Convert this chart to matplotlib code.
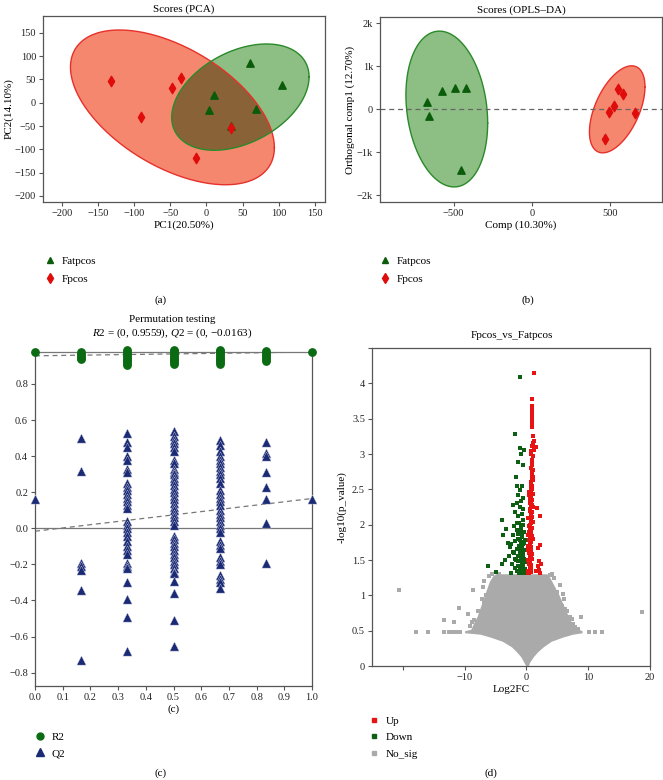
import numpy as np
import matplotlib
matplotlib.use("Agg")
from matplotlib import pyplot as plt
from matplotlib.lines import Line2D
from matplotlib.path import Path

plt.rcParams['font.family'] = ['Liberation Serif', 'DejaVu Serif']
plt.rcParams['mathtext.fontset'] = 'custom'
plt.rcParams['mathtext.rm'] = 'Liberation Serif'
plt.rcParams['mathtext.it'] = 'Liberation Serif:italic'

# ---- (a) PCA scores
pca_fat_x = [60, 105, 10, 3, 68, 34]
pca_fat_y = [85, 37, 16, -16, -13, -49]
pca_fp_x = [-132, -35, -48, -90, -15, 34]
pca_fp_y = [47, 53, 32, -30, -118, -54]
# ellipse: centre x, centre y, half width, half height, correlation
pca_fat_ell = [47, 12, 95, 114, 0.38]
pca_fp_ell = [-47, -10, 141, 166, -0.52]

# ---- (b) OPLS-DA scores
opls_fat_x = [-673, -660, -577, -492, -421, -453]
opls_fat_y = [170, -163, 427, 482, 482, -1422]
opls_fp_x = [555, 583, 530, 494, 660, 470]
opls_fp_y = [459, 350, 70, -62, -100, -684]
opls_fat_ell = [-544, 3, 262, 1815, -0.18]
opls_fp_ell = [548, -4, 178, 1014, 0.52]

# ---- (c) permutation test
r2_perm = {
    0.0: [0.977],
    1/6: [0.978, 0.965, 0.955, 0.945, 0.937],
    2/6: [0.988, 0.975, 0.965, 0.955, 0.945, 0.935, 0.925, 0.915, 0.906],
    3/6: [0.99, 0.98, 0.97, 0.96, 0.95, 0.94, 0.93, 0.92, 0.91],
    4/6: [0.99, 0.98, 0.97, 0.96, 0.95, 0.94, 0.93, 0.92, 0.91],
    5/6: [0.984, 0.972, 0.96, 0.948, 0.936, 0.925],
    1.0: [0.977],
}
q2_perm = {
    0.0: [0.16],
    1/6: [0.50, 0.32, -0.19, -0.21, -0.23, -0.34, -0.73],
    2/6: [0.53, 0.48, 0.45, 0.40, 0.38, 0.33, 0.31, 0.25, 0.23, 0.21, 0.19,
          0.17, 0.15, 0.13, 0.11, 0.04, 0.02, 0.0, -0.02, -0.04, -0.07, -0.10,
          -0.12, -0.14, -0.19, -0.21, -0.22, -0.30, -0.39, -0.49, -0.68],
    3/6: [0.54, 0.51, 0.49, 0.47, 0.45, 0.43, 0.38, 0.36, 0.33, 0.31, 0.30,
          0.28, 0.26, 0.24, 0.22, 0.20, 0.18, 0.16, 0.14, 0.12, 0.10, 0.08,
          0.06, 0.04, 0.02, -0.04, -0.06, -0.08, -0.10, -0.12, -0.14, -0.16,
          -0.18, -0.20, -0.22, -0.24, -0.25, -0.29, -0.36, -0.51, -0.65],
    4/6: [0.49, 0.46, 0.43, 0.40, 0.38, 0.36, 0.34, 0.32, 0.30, 0.28, 0.25,
          0.21, 0.19, 0.17, 0.15, 0.13, 0.10, 0.08, 0.06, 0.04, 0.02, 0.0,
          -0.02, -0.07, -0.09, -0.11, -0.16, -0.18, -0.20, -0.26, -0.28,
          -0.30, -0.33],
    5/6: [0.48, 0.42, 0.40, 0.31, 0.23, 0.16, 0.03, -0.19],
    1.0: [0.165],
}
r2_line = [0.9559, 0.977]
q2_line = [-0.0163, 0.165]

# ---- (d) volcano
up_x = [1.18, 0.9, 0.95, 0.85, 0.9, 0.85, 0.9, 0.85, 0.9, 1.3, 1.0, 0.9, 1.5, 1.2,
        0.8, 1.0, 0.85, 0.9, 0.8, 1.0, 0.85, 0.9, 0.85, 1.0, 0.8, 0.9, 0.75, 0.85,
        0.7, 1.0, 0.8, 0.6, 0.9, 0.7, 0.5, 0.8, 1.1, 1.7, 0.6, 0.9, 0.7, 2.25,
        0.5, 0.8, 1.0, 0.6, 0.4, 0.9, 0.7, 0.5, 0.8, 0.3, 0.6, 1.1, 0.4, 0.7,
        2.25, 0.5, 0.3, 1.9, 0.8, 0.6, 0.35, 0.9, 0.5, 0.7, 0.3, 2.1, 2.3, 0.6,
        0.4, 1.8, 0.8, 0.5, 2.0, 0.3, 1.6, 0.7, 2.2, 0.4,
        0.4, 0.6, 0.9, 0.5, 0.7, 0.3, 0.8, 0.6, 0.4, 0.9, 0.5, 0.7, 0.3, 0.8,
        0.6, 0.9, 0.4, 0.7, 0.5, 0.8, 0.3, 0.6, 0.9, 0.5, 0.7, 0.4, 0.8, 0.6,
        1.0, 0.9, 0.8, 1.0, 0.9, 0.85]
up_y = [4.14, 3.78, 3.68, 3.64, 3.6, 3.55, 3.52, 3.42, 3.38, 3.18, 3.15, 3.12, 3.1,
        3.05, 3.04, 2.97, 2.92, 2.85, 2.8, 2.78, 2.74, 2.7, 2.66, 2.63, 2.6, 2.55,
        2.52, 2.5, 2.47, 2.44, 2.4, 2.37, 2.35, 2.32, 2.3, 2.27, 2.25, 2.24, 2.2,
        2.18, 2.14, 2.12, 2.1, 2.07, 2.04, 2.0, 1.98, 1.95, 1.92, 1.9, 1.87, 1.85,
        1.82, 1.8, 1.78, 1.75, 1.71, 1.72, 1.7, 1.67, 1.66, 1.63, 1.6, 1.58, 1.56,
        1.53, 1.5, 1.48, 1.45, 1.47, 1.44, 1.42, 1.41, 1.38, 1.36, 1.35, 1.34,
        1.33, 1.32, 1.32,
        2.42, 2.34, 2.28, 2.22, 2.16, 2.09, 2.02, 1.96, 1.89, 1.84, 1.77, 1.69,
        1.64, 1.59, 1.55, 1.51, 1.46, 1.43, 1.39, 1.37, 1.31, 1.74, 2.11, 1.93,
        1.61, 2.46, 2.58, 2.32, 2.68, 2.88, 3.0, 3.25, 3.46, 3.62]
down_x = [-1.08, -1.78, -1.0, -0.4, -0.86, -1.35, -0.6, -1.72, -1.45, -0.75, -0.97,
          -1.3, -0.6, -2.15, -0.86, -1.6, -1.1, -0.5, -1.9, -0.8, -1.4, -3.88,
          -0.6, -1.2, -3.23, -2.0, -0.9, -1.5, -0.4, -3.77, -1.1, -2.2, -0.7,
          -1.3, -0.3, -1.8, -0.9, -2.5, -0.5, -1.2, -2.7, -0.8, -1.6, -0.3, -1.0,
          -2.0, -0.6, -1.4, -0.9, -3.5, -0.4, -1.7, -1.1, -0.7, -4.0, -2.3, -0.5,
          -6.2, -1.3, -0.9, -1.9, -0.3, -1.0, -0.6, -5.0, -1.5, -0.8, -2.5, -0.4,
          -1.2,
          -0.5, -0.9, -1.3, -0.7, -1.1, -0.4, -0.8, -1.2, -0.6, -1.0, -1.4, -0.5,
          -0.9, -0.3, -0.7, -1.1, -0.6, -1.0, -0.4, -0.8, -1.2, -0.5, -0.9, -0.7,
          -1.3, -0.6, -1.0, -0.4, -0.8, -1.5, -2.1, -2.8, -1.8, -3.0]
down_y = [4.09, 3.29, 3.09, 3.06, 3.0, 2.88, 2.85, 2.67, 2.55, 2.55, 2.49, 2.42,
          2.38, 2.28, 2.33, 2.3, 2.25, 2.22, 2.18, 2.15, 2.12, 2.07, 2.06, 2.03,
          1.94, 1.98, 1.96, 1.92, 1.9, 1.86, 1.88, 1.85, 1.84, 1.8, 1.79, 1.77,
          1.75, 1.73, 1.72, 1.7, 1.68, 1.67, 1.65, 1.64, 1.62, 1.6, 1.58, 1.56,
          1.54, 1.5, 1.52, 1.5, 1.48, 1.46, 1.44, 1.45, 1.43, 1.41, 1.42, 1.4,
          1.38, 1.37, 1.36, 1.35, 1.33, 1.34, 1.32, 1.32, 1.31, 1.31,
          1.99, 1.93, 1.87, 1.82, 1.78, 1.74, 1.7, 1.66, 1.63, 1.59, 1.55, 1.53,
          1.5, 1.47, 1.44, 1.41, 1.39, 1.37, 1.35, 1.33, 1.33, 1.32, 1.56, 1.6,
          1.48, 1.44, 1.69, 1.76, 1.57, 2.02, 1.62, 1.55, 1.52, 1.74]
nosig_x = [-20.7, -8.7, -10.9, -9.5, -13.3, -11.8, 18.7, 8.9, 6.9, 7.0, -17.9, -15.9,
           -13.4, -12.6, -12.0, -11.4, -10.8, 10.2, 11.1, 12.3, -6.8, -6.5, -7.2,
           -6.0, 5.5, 4.5, 3.8, 5.8, 6.3, 5.0, -7.8, -8.5, -7.5, 7.8, 8.3, -5.5,
           -6.2, 6.0, 4.2, -4.5, -8.8, -9.2, 7.3, 7.6, -7.0, 5.9, -6.9, 6.6]
nosig_y = [1.07, 1.07, 0.82, 0.74, 0.65, 0.62, 0.77, 0.70, 0.61, 0.69, 0.485, 0.485,
           0.485, 0.485, 0.485, 0.485, 0.485, 0.485, 0.485, 0.485, 1.2, 1.0, 0.95,
           1.27, 1.15, 1.25, 1.29, 0.85, 0.8, 1.05, 0.78, 0.65, 0.58, 0.55, 0.52,
           1.3, 0.88, 0.95, 1.3, 1.3, 0.62, 0.56, 0.66, 0.6, 1.12, 1.02, 0.9, 0.78]
# dense no_sig cloud outline
cloud_y = [0.0, 0.05, 0.13, 0.2, 0.27, 0.35, 0.41, 0.45, 0.47, 0.50, 0.52, 0.60,
           0.70, 0.80, 0.90, 1.00, 1.10, 1.20, 1.28, 1.305]
cloud_left = [-0.1, -0.4, -0.9, -1.6, -2.4, -3.9, -5.9, -7.5, -10.0, -10.0, -9.0,
              -8.6, -8.0, -7.6, -7.2, -6.8, -6.4, -6.0, -5.4, -5.0]
cloud_right = [0.3, 0.5, 1.1, 1.8, 2.7, 4.0, 5.9, 7.5, 9.0, 9.0, 8.4, 7.4, 6.8,
               6.3, 5.8, 5.3, 4.7, 4.1, 3.6, 3.3]

RED_FILL = '#f5876e'
GREEN_FILL = '#8dbe83'
BROWN_FILL = '#8a6238'
RED_EDGE = '#e8302a'
GREEN_EDGE = '#2a8a2a'
RED_MK = '#e00b0b'
GREEN_MK = '#0a5c0a'
SPINE = '#555555'
FS = 8
TS = 7.5


def ellipse_xy(p):
    cx, cy, w, h, rho = p
    t = np.linspace(0, 2 * np.pi, 400)
    d = np.arccos(rho)
    return np.column_stack([cx + w * np.cos(t), cy + h * np.cos(t - d)])


def overlap_xy(a, b):
    # both ellipses are convex: keep the outline points of each that lie in the other
    pts = np.vstack([a[Path(b).contains_points(a)], b[Path(a).contains_points(b)]])
    if len(pts) < 3:
        return None
    c = pts.mean(axis=0)
    return pts[np.argsort(np.arctan2(pts[:, 1] - c[1], pts[:, 0] - c[0]))]


def style(ax):
    for s in ax.spines.values():
        s.set_color(SPINE)
        s.set_linewidth(0.9)
    ax.tick_params(direction='out', length=3, width=0.8, color=SPINE,
                   labelsize=TS, labelcolor='#222222', pad=2)


def score_panel(ax, fat_x, fat_y, fp_x, fp_y, fat_ell, fp_ell):
    red_xy = ellipse_xy(fp_ell)
    green_xy = ellipse_xy(fat_ell)
    ax.fill(red_xy[:, 0], red_xy[:, 1], color=RED_FILL, lw=0, zorder=1)
    ax.fill(green_xy[:, 0], green_xy[:, 1], color=GREEN_FILL, lw=0, zorder=1.1)
    both = overlap_xy(red_xy, green_xy)
    if both is not None:
        ax.fill(both[:, 0], both[:, 1], color=BROWN_FILL, lw=0, zorder=1.5)
    ax.plot(red_xy[:, 0], red_xy[:, 1], color=RED_EDGE, lw=1.0, zorder=2)
    ax.plot(green_xy[:, 0], green_xy[:, 1], color=GREEN_EDGE, lw=1.0, zorder=2)
    ax.scatter(fat_x, fat_y, marker='^', s=28, color=GREEN_MK, zorder=3)
    ax.scatter(fp_x, fp_y, marker='d', s=28, color=RED_MK, zorder=3)


def score_legend(ax, x, y):
    h = [Line2D([], [], ls='', marker='^', ms=5, color=GREEN_MK, label='Fatpcos'),
         Line2D([], [], ls='', marker='d', ms=5, color=RED_MK, label='Fpcos')]
    ax.legend(handles=h, loc='upper left', bbox_to_anchor=(x, y), bbox_transform=fig.transFigure,
              frameon=False, fontsize=FS, handlelength=1.0, handletextpad=0.6,
              labelspacing=0.75, borderaxespad=0, borderpad=0)


fig = plt.figure(figsize=(6.63, 7.8), dpi=100)
W_, H_ = 663.0, 780.0


def box(l, t, r, b):
    return [l / W_, 1 - b / H_, (r - l) / W_, (b - t) / H_]


# (a)
ax = fig.add_axes(box(43, 16, 325, 202))
score_panel(ax, pca_fat_x, pca_fat_y, pca_fp_x, pca_fp_y, pca_fat_ell, pca_fp_ell)
ax.set_xlim(-226, 164)
ax.set_ylim(-213, 186)
ax.set_xticks(range(-200, 151, 50))
ax.set_yticks(range(-200, 151, 50))
style(ax)
ax.set_xlabel('PC1(20.50%)', fontsize=FS, labelpad=2)
ax.set_ylabel('PC2(14.10%)', fontsize=FS, labelpad=1)
ax.set_title('Scores (PCA)', fontsize=FS, pad=3)
score_legend(ax, 44 / W_, 1 - 256 / H_)
fig.text(161 / W_, 1 - 300 / H_, '(a)', ha='center', va='center', fontsize=FS)

# (b)
ax = fig.add_axes(box(380, 17, 662, 202))
score_panel(ax, opls_fat_x, opls_fat_y, opls_fp_x, opls_fp_y, opls_fat_ell, opls_fp_ell)
ax.axhline(0, color='#666666', lw=0.9, ls=(0, (4, 3)), zorder=2.5)
ax.set_xlim(-972, 835)
ax.set_ylim(-2163, 2147)
ax.set_xticks([-500, 0, 500])
ax.set_yticks([-2000, -1000, 0, 1000, 2000])
ax.set_yticklabels(['\u22122k', '\u22121k', '0', '1k', '2k'])
style(ax)
ax.set_xlabel('Comp (10.30%)', fontsize=FS, labelpad=2)
ax.set_ylabel('Orthogonal comp1 (12.70%)', fontsize=FS, labelpad=1)
ax.set_title('Scores (OPLS\u2013DA)', fontsize=FS, pad=3)
score_legend(ax, 379 / W_, 1 - 256 / H_)
fig.text(528 / W_, 1 - 300 / H_, '(b)', ha='center', va='center', fontsize=FS)

# (c)
ax = fig.add_axes(box(35, 352, 312, 686))
for xv, vals in q2_perm.items():
    ax.scatter([xv] * len(vals), vals, marker='^', s=44, color='#1b2a75',
               edgecolors='#c8cce0', linewidths=0.3, zorder=3, clip_on=False)
for xv, vals in r2_perm.items():
    ax.scatter([xv] * len(vals), vals, marker='o', s=28, color='#0b6b12', zorder=3, clip_on=False)
ax.axhline(0, color='#777777', lw=0.9, zorder=1)
ax.plot([0, 1], r2_line, color='#777777', lw=0.9, ls=(0, (4, 3)), zorder=2)
ax.plot([0, 1], q2_line, color='#777777', lw=0.9, ls=(0, (4, 3)), zorder=2)
ax.set_xlim(0, 1)
ax.set_ylim(-0.874, 0.977)
ax.set_xticks(np.round(np.arange(0, 1.01, 0.1), 1))
ax.set_yticks([-0.8, -0.6, -0.4, -0.2, 0.0, 0.2, 0.4, 0.6, 0.8])
ax.set_yticklabels(['\u22120.8', '\u22120.6', '\u22120.4', '\u22120.2', '0.0', '0.2', '0.4', '0.6', '0.8'])
style(ax)
ax.spines['top'].set_color('#777777')
ax.set_xlabel('(c)', fontsize=FS, labelpad=2)
fig.text(172 / W_, 1 - 319 / H_, 'Permutation testing', ha='center', va='center', fontsize=FS)
fig.text(172 / W_, 1 - 333 / H_, '$\\mathit{R2}$ = (0, 0.9559), $\\mathit{Q2}$ = (0, \u22120.0163)',
         ha='center', va='center', fontsize=FS)
h = [Line2D([], [], ls='', marker='o', ms=5, color='#0b6b12', label='R2'),
     Line2D([], [], ls='', marker='^', ms=6, color='#1b2a75', label='Q2')]
ax.legend(handles=h, loc='upper left', bbox_to_anchor=(34 / W_, 1 - 732 / H_), bbox_transform=fig.transFigure,
          frameon=False, fontsize=FS, handlelength=1.0, handletextpad=0.6,
          labelspacing=0.6, borderaxespad=0, borderpad=0)
fig.text(161 / W_, 1 - 773 / H_, '(c)', ha='center', va='center', fontsize=FS)

# (d)
ax = fig.add_axes(box(372, 348, 650, 666))
ax.fill_betweenx(cloud_y, cloud_left, cloud_right, color='#aaaaaa', lw=0, zorder=1)
ax.scatter(nosig_x, nosig_y, marker='s', s=6, color='#aaaaaa', lw=0, zorder=1)
ax.scatter(down_x, down_y, marker='s', s=6, color='#0e5e14', lw=0, zorder=2)
ax.scatter(up_x, up_y, marker='s', s=6, color='#e81414', lw=0, zorder=2)
ax.set_xlim(-25, 20)
ax.set_ylim(0, 4.5)
ax.set_xticks([-20, -10, 0, 10, 20])
ax.set_xticklabels(['', '\u221210', '0', '10', '20'])
ax.set_yticks([0, 0.5, 1, 1.5, 2, 2.5, 3, 3.5, 4, 4.5])
ax.set_yticklabels(['0', '0.5', '1', '1.5', '2', '2.5', '3', '3.5', '4', ''])
style(ax)
ax.set_xlabel('Log2FC', fontsize=FS, labelpad=2)
ax.set_ylabel('-log10(p_value)', fontsize=FS, labelpad=4)
fig.text(512 / W_, 1 - 336 / H_, 'Fpcos_vs_Fatpcos', ha='center', va='center', fontsize=FS)
h = [Line2D([], [], ls='', marker='s', ms=2.2, color='#e81414', label='Up'),
     Line2D([], [], ls='', marker='s', ms=2.2, color='#0e5e14', label='Down'),
     Line2D([], [], ls='', marker='s', ms=2.8, color='#aaaaaa', label='No_sig')]
ax.legend(handles=h, loc='upper left', bbox_to_anchor=(370 / W_, 1 - 716 / H_), bbox_transform=fig.transFigure,
          frameon=False, fontsize=FS, handlelength=0.8, handletextpad=0.6,
          labelspacing=0.6, borderaxespad=0, borderpad=0)
fig.text(491 / W_, 1 - 773 / H_, '(d)', ha='center', va='center', fontsize=FS)

fig.savefig('out.png', dpi=100)
